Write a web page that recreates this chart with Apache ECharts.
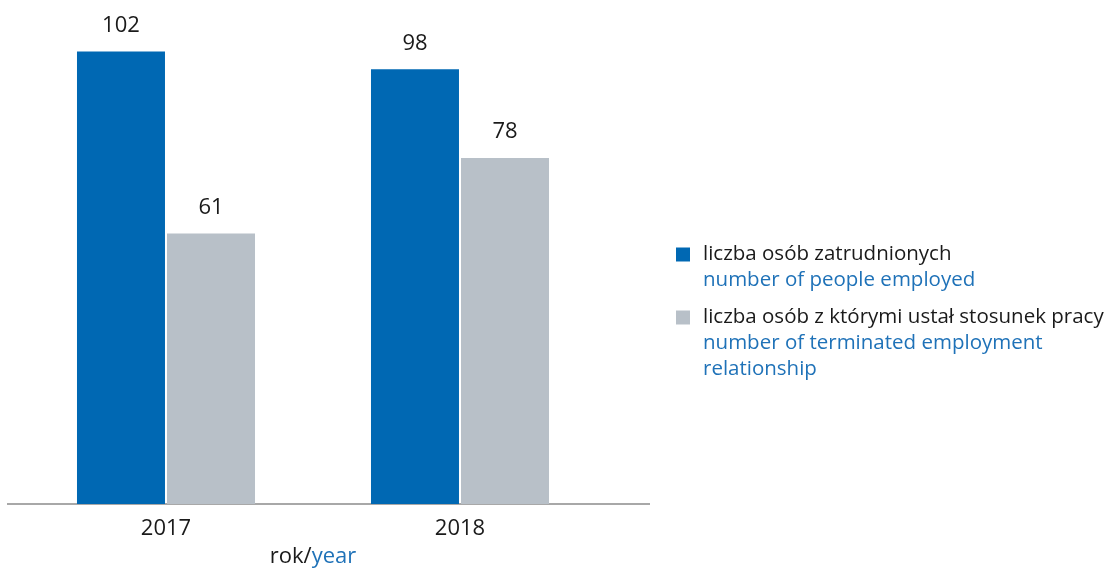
<!DOCTYPE html>
<html>
<head>
<meta charset="utf-8">
<script src="https://cdn.jsdelivr.net/npm/echarts@6/dist/echarts.min.js"></script>
<style>
  html, body { margin: 0; padding: 0; background: #ffffff; }
  #chart { width: 1112px; height: 569px; }
</style>
</head>
<body>
<div id="chart"></div>
<script>
// Years on the category axis
const years = ['2017', '2018'];
// Number of people employed per year
const employed = [102, 98];
// Number of terminated employment relationships per year
const terminated = [61, 78];
// Series names, Polish line and English line(s)
const employedName = ['liczba osób zatrudnionych', 'number of people employed'];
const terminatedName = ['liczba osób z którymi ustał stosunek pracy', 'number of terminated employment', 'relationship'];
const axisTitle = ['rok/', 'year'];

const BLUE = '#0068b3';
const GREY = '#b8c0c8';
const TEXT_BLUE = '#1f72b8';
const FONT = '"Open Sans", "Noto Sans", sans-serif';
const LINE_H = 26;
const LEGEND_FS = 20.5;

const chart = echarts.init(document.getElementById('chart'), null, { renderer: 'canvas' });

const legendRich = {
  pl: { fontSize: LEGEND_FS, color: '#1a1a1a', lineHeight: LINE_H, fontFamily: FONT },
  en: { fontSize: LEGEND_FS, color: TEXT_BLUE, lineHeight: LINE_H, fontFamily: FONT }
};

function legendText(lines) {
  return lines.map((l, i) => (i === 0 ? '{pl|' + l + '}' : '{en|' + l + '}')).join('\n');
}

// Each legend entry has its own box; top padding keeps the square beside the first line
function makeLegend(name, lines, iconCenterY) {
  return {
    data: [name],
    orient: 'vertical',
    left: 676,
    top: iconCenterY - 7,
    padding: 0,
    itemWidth: 14,
    itemHeight: 14,
    itemGap: 0,
    icon: 'rect',
    selectedMode: false,
    formatter: () => legendText(lines),
    textStyle: {
      padding: [LINE_H * (lines.length - 1), 0, 0, 8],
      rich: legendRich
    }
  };
}

const labelStyle = {
  show: true,
  position: 'top',
  distance: 15,
  fontSize: 22,
  color: '#1a1a1a',
  fontFamily: FONT
};

chart.setOption({
  animation: false,
  backgroundColor: '#ffffff',
  grid: { left: 19, right: 505, top: 16, bottom: 65, containLabel: false, outerBoundsMode: 'none' },
  legend: [
    makeLegend(employedName[0], employedName, 251),
    makeLegend(terminatedName[0], terminatedName, 314)
  ],
  xAxis: {
    type: 'category',
    data: years,
    axisLine: { show: false },
    axisTick: { show: false },
    axisLabel: { fontSize: 22, color: '#1a1a1a', margin: 14, fontFamily: FONT },
    name: '{a|' + axisTitle[0] + '}{b|' + axisTitle[1] + '}',
    nameLocation: 'middle',
    nameGap: 42,
    nameTextStyle: {
      rich: {
        a: { fontSize: 22, color: '#1a1a1a', fontFamily: FONT },
        b: { fontSize: 22, color: TEXT_BLUE, fontFamily: FONT }
      }
    }
  },
  yAxis: {
    type: 'value',
    min: 0,
    max: 110,
    show: false,
    splitLine: { show: false }
  },
  series: [
    {
      name: employedName[0],
      type: 'bar',
      data: employed,
      barWidth: 88,
      barGap: '2.3%',
      itemStyle: { color: BLUE },
      label: labelStyle
    },
    {
      name: terminatedName[0],
      type: 'bar',
      data: terminated,
      barWidth: 88,
      itemStyle: { color: GREY },
      label: labelStyle
    }
  ]
});

// Baseline rule, running a little past the plotting area on both sides
const baseY = chart.convertToPixel({ yAxisIndex: 0 }, 0);
chart.setOption({
  graphic: [{
    type: 'line',
    shape: { x1: 7, y1: baseY, x2: 650, y2: baseY },
    style: { stroke: '#a8a8a8', lineWidth: 2 },
    silent: true
  }]
});
</script>
</body>
</html>
